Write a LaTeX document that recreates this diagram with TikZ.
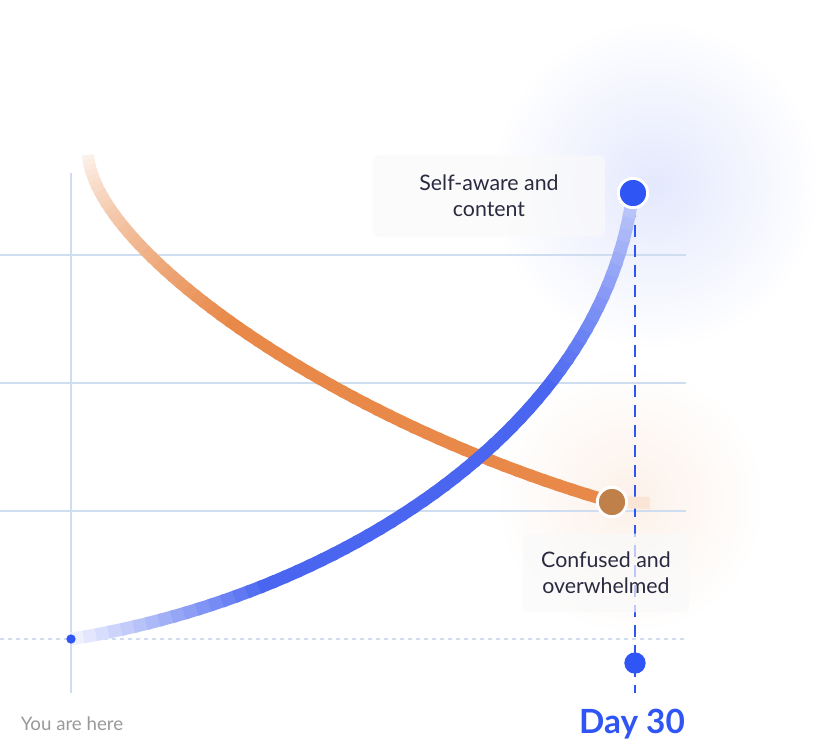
\documentclass[tikz,border=0pt]{standalone}
\usepackage{fontspec}
\setmainfont{Lato}
\definecolor{gridc}{HTML}{CFDDF0}
\definecolor{bluec}{HTML}{4A66F0}
\definecolor{dotb}{HTML}{2F55F5}
\definecolor{orc}{HTML}{E8894A}
\definecolor{dotor}{HTML}{C0804A}
\definecolor{txt}{HTML}{2A2A40}
\tikzset{grid line/.style={gridc,line width=1.2pt},
 lbl/.style={font=\fontsize{16}{19.5}\selectfont,text=txt,align=center,fill=gray!4,fill opacity=0.7,text opacity=1,rounded corners=4pt},
 dotbig/.style={circle,draw=white,line width=2.2pt,minimum size=22pt,inner sep=0pt}}
\newcommand{\bzv}[5]{((1-#1)^3*#2+3*(1-#1)^2*#1*#3+3*(1-#1)*#1^2*#4+#1^3*#5)}
\begin{document}
\begin{tikzpicture}[x=0.75pt,y=-0.75pt]
\useasboundingbox[fill=white] (0,0) rectangle (829,744);
\shade[inner color=bluec!15,outer color=white,draw=none] (655,185) circle (165);
\shade[inner color=orc!12,outer color=white,draw=none] (630,500) circle (135);
\fill[white] (0,640) rectangle (829,744);
\draw[grid line] (0,255) -- (686,255);
\draw[grid line] (0,383) -- (686,383);
\draw[grid line] (0,511) -- (686,511);
\draw[gridc,line width=0.9pt,dashed] (0,639) -- (686,639);
\draw[grid line] (71,173) -- (71,693);
\draw[dotb,line width=1.1pt,dash pattern=on 9pt off 6pt] (635,205) -- (635,693);
% orange curve
\foreach \i in {0,...,59}{
 \pgfmathsetmacro\ta{\i/60}\pgfmathsetmacro\tb{(\i+1.3)/60}
 \pgfmathsetmacro\xa{\bzv{\ta}{88}{95}{330}{612}}\pgfmathsetmacro\ya{\bzv{\ta}{155}{250}{420}{502}}
 \pgfmathsetmacro\xb{\bzv{\tb}{88}{95}{330}{612}}\pgfmathsetmacro\yb{\bzv{\tb}{155}{250}{420}{502}}
 \pgfmathsetmacro\p{min(100,12+\i*3.2)}
 \draw[orc!\p!white,line width=9pt] (\xa,\ya) -- (\xb,\yb);
}
\draw[orc!22!white,line width=9pt] (612,502) -- (650,503);
% blue curve
\foreach \i in {0,...,59}{
 \pgfmathsetmacro\ta{\i/60}\pgfmathsetmacro\tb{(\i+1.3)/60}
 \pgfmathsetmacro\xa{\bzv{\ta}{71}{320}{600}{633}}\pgfmathsetmacro\ya{\bzv{\ta}{639}{600}{440}{193}}
 \pgfmathsetmacro\xb{\bzv{\tb}{71}{320}{600}{633}}\pgfmathsetmacro\yb{\bzv{\tb}{639}{600}{440}{193}}
 \pgfmathsetmacro\p{\i<15 ? 10+\i*6 : (\i>42 ? 100-(\i-42)*3.8 : 100)}
 \draw[bluec!\p!white,line width=9.5pt] (\xa,\ya) -- (\xb,\yb);
}
\node[lbl,minimum width=174pt,minimum height=61pt] (top) at (489,196) {Self-aware and\\content};
\node[lbl,minimum width=125pt,minimum height=59pt] (bot) at (606,573) {Confused and\\overwhelmed};
\node[dotbig,fill=dotb] (d1) at (633,193) {};
\node[dotbig,fill=dotor] (d2) at (612,502) {};
\node[circle,fill=dotb,minimum size=16pt,inner sep=0pt] (d3) at (635,663) {};
\node[circle,fill=dotb,minimum size=7pt,inner sep=0pt] (d0) at (71,639) {};
\node[text=gray!80,font=\fontsize{14}{16}\selectfont] (you) at (72,724) {You are here};
\node[text=dotb,font=\bfseries\fontsize{25}{29}\selectfont] (day) at (632,724) {Day 30};
\end{tikzpicture}
\end{document}
